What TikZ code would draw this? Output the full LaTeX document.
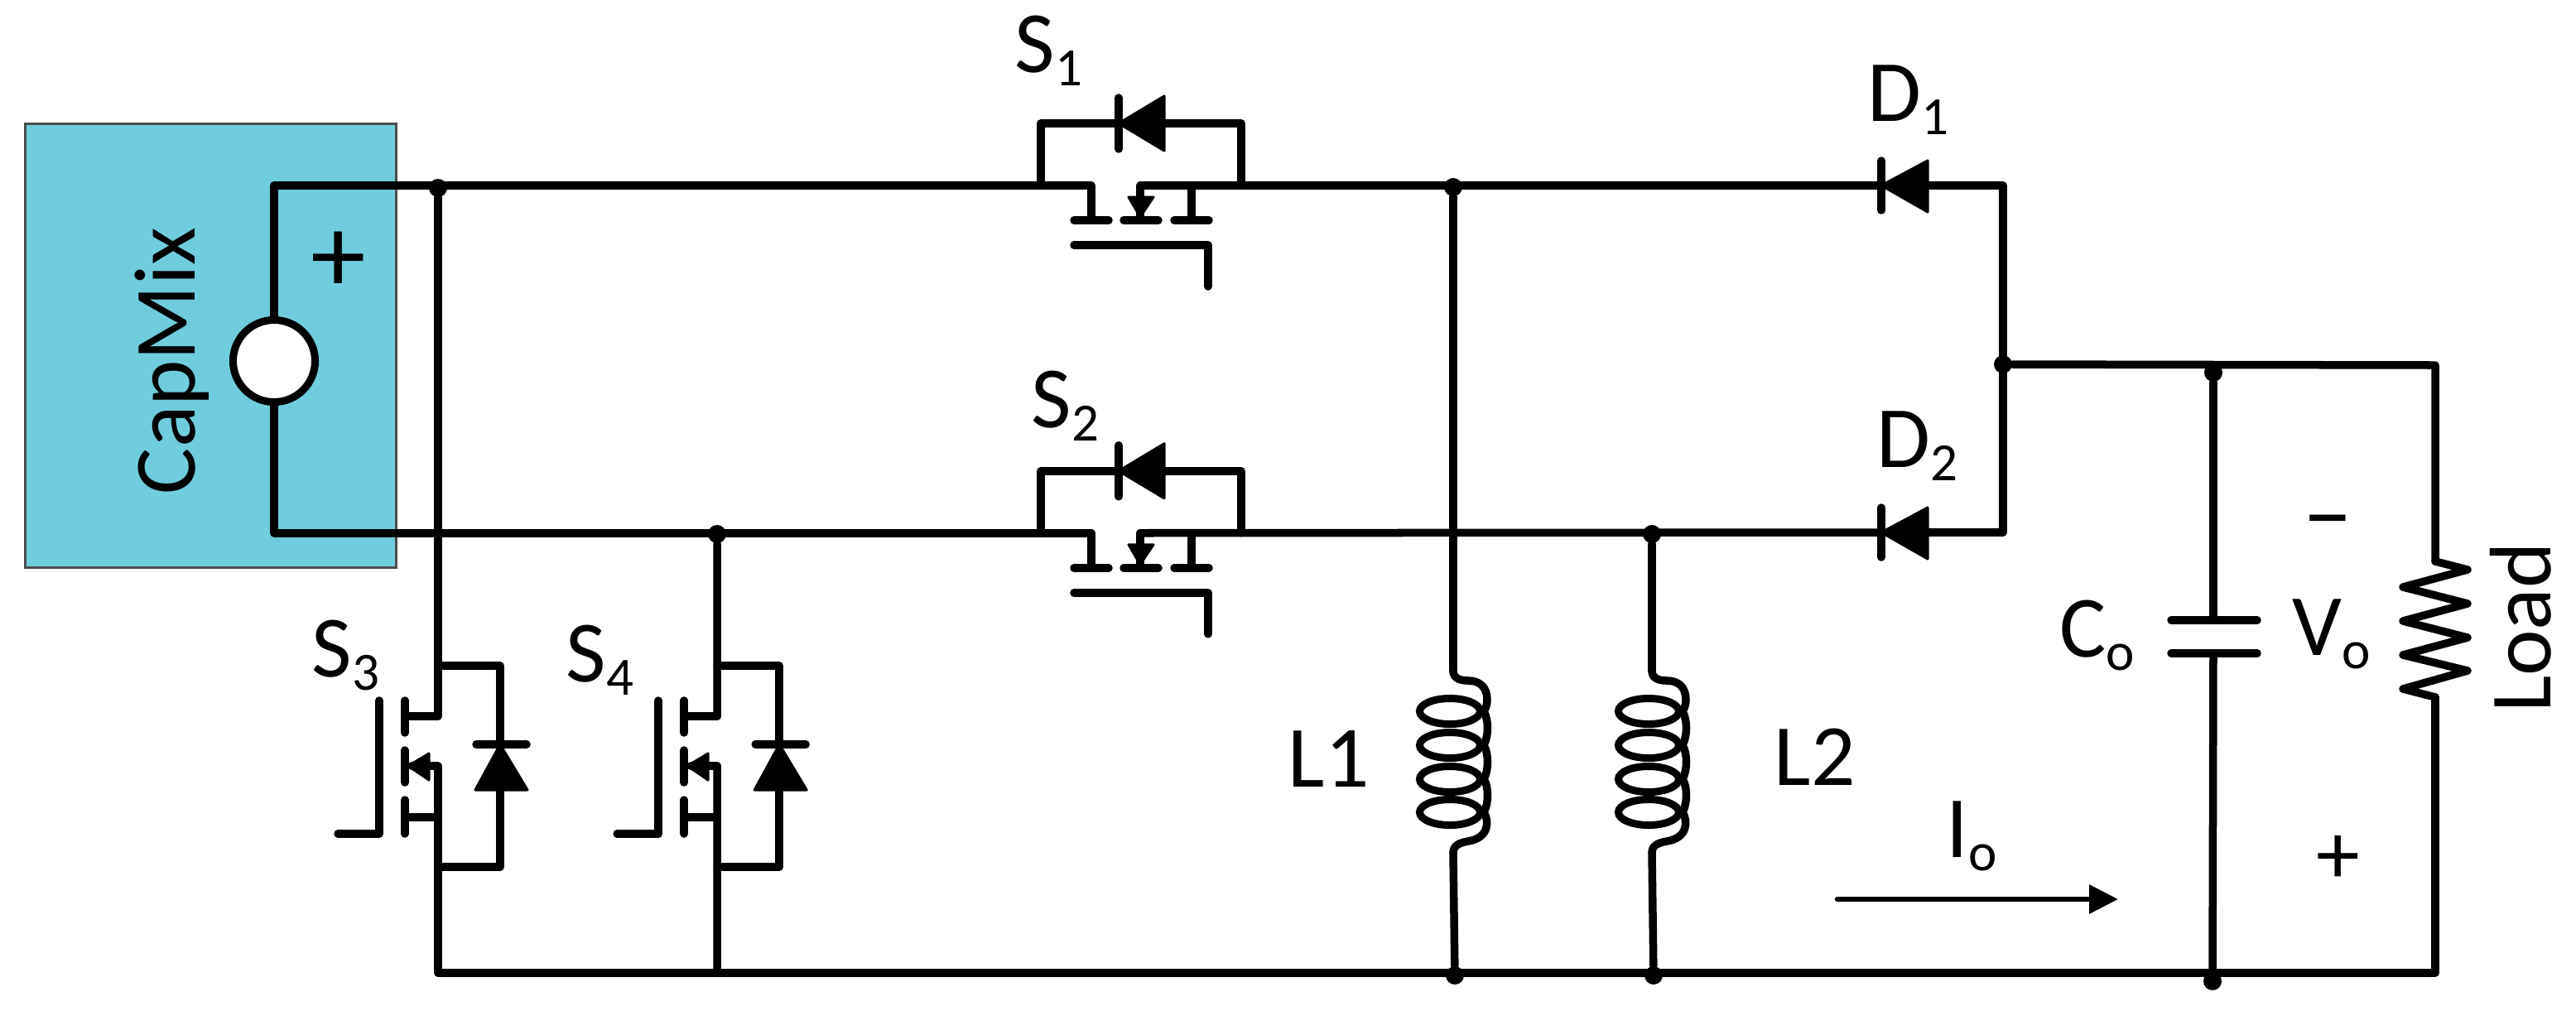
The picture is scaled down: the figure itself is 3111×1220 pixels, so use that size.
\documentclass[tikz,border=0pt]{standalone}
\usepackage{fontspec}
\setmainfont{Carlito}
\usetikzlibrary{arrows.meta}
\definecolor{capblue}{RGB}{111,205,222}
\tikzstyle{wire}=[line width=0.095cm,line cap=round,line join=round]
\tikzstyle{tip}=[line width=0.03cm,line join=round,fill=black]
\tikzstyle{dot}=[circle,fill=black,inner sep=0pt,minimum size=0.22cm]
\tikzstyle{lbl}=[inner sep=0pt,font=\fontsize{30pt}{36pt}\selectfont]
\newcommand{\lowsub}[1]{\raisebox{-0.16cm}{\fontsize{18.5pt}{22pt}\selectfont #1}}
% switch on a rail, diode on top
\newcommand{\railswitch}[1]{
\coordinate(#1a) at (1257,224);
\coordinate(#1b) at (1499,224);
\coordinate(#1d) at (1318,224);
\coordinate(#1s) at (1377,224);
\coordinate(#1e) at (1439,224);
\draw[wire](#1a)--(1257,149)--(1351,149);
\draw[wire](#1b)--(1499,149)--(1407,149);
\draw[wire](1351,118)--(1351,180);
\filldraw[tip](1351,149)--(1406,116)--(1406,182)--cycle;
\draw[wire](#1d)--(1318,266);
\draw[wire](#1s)--(1377,266);
\draw[wire](#1e)--(1439,266);
\draw[wire](1297,266)--(1339,266);
\draw[wire](1357,266)--(1399,266);
\draw[wire](1418,266)--(1460,266);
\filldraw[tip](1363,238)--(1393,238)--(1377,262)--cycle;
\draw[wire](1297,296)--(1459,296)--(1459,346);
}
% switch hanging down, diode on the right
\newcommand{\legswitch}[1]{
\coordinate(#1t) at (529,804);
\coordinate(#1u) at (529,865);
\coordinate(#1m) at (529,925);
\coordinate(#1v) at (529,987);
\coordinate(#1w) at (529,1047);
\draw[wire](#1t)--(604,804)--(604,899);
\draw[wire](#1w)--(604,1047)--(604,955);
\draw[wire](575,899)--(636,899);
\filldraw[tip](604,899)--(574,954)--(637,954)--cycle;
\draw[wire](#1u)--(489,865);
\draw[wire](#1m)--(497,925);
\draw[wire](#1v)--(489,987);
\draw[wire](489,846)--(489,885);
\draw[wire](489,906)--(489,945);
\draw[wire](489,966)--(489,1007);
\filldraw[tip](493,925)--(518,910)--(518,942)--cycle;
\draw[wire](458,846)--(458,1007)--(408,1007);
}
% coil, wire at the given x
\newcommand{\coil}[2]{
\coordinate(#1t) at (#2,810);
\coordinate(#1b) at (#2,1030);
\draw[wire](#1t)..controls(#2,818)and(#2+6,822)..(#2+18,822)..controls(#2+32,822)and(#2+41,830)..(#2+41,845)..controls(#2+41,850)and(#2+40,854)..(#2+37,859)..controls(#2+43,870)and(#2+43,888)..(#2+37,900)..controls(#2+43,910)and(#2+43,930)..(#2+37,941)..controls(#2+43,950)and(#2+43,970)..(#2+37,981)..controls(#2+44,992)and(#2+43,1012)..(#2+18,1016)..controls(#2+6,1018)and(#2,1022)..(#1b);
\foreach \yy in {859,900,941,981}
\draw[line width=0.09cm](#2-4,\yy) ellipse (0.365cm and 0.155cm);
}
\begin{document}
\begin{tikzpicture}[x=0.01cm,y=-0.01cm]
\useasboundingbox(0,0) rectangle (3111,1220);
\node(box)[draw=black!70,line width=0.03cm,fill=capblue,minimum width=4.47cm,minimum height=5.35cm,inner sep=0pt] at (254.5,417.5){};
\node(capmix)[lbl,rotate=90,anchor=base] at (235,436){CapMix};
\node(src)[circle,draw=black,line width=0.09cm,fill=white,minimum size=0.99cm,inner sep=0pt] at (331,436){};
\node(plus)[lbl,font=\fontsize{38pt}{40pt}\selectfont] at (409,317){+};
\railswitch{sa}
\begin{scope}[yshift=-4.195cm]
\railswitch{sb}
\end{scope}
\legswitch{sc}
\begin{scope}[xshift=3.37cm]
\legswitch{sd}
\end{scope}
\coil{la}{1755}
\coil{lb}{1995}
\coordinate(d1) at (2272,224);
\coordinate(d2) at (2272,643);
\coordinate(d1r) at (2329,224);
\coordinate(d2r) at (2329,643);
\coordinate(rt) at (2419,224);
\coordinate(rb) at (2419,643);
\coordinate(ct) at (2673,749);
\coordinate(cb) at (2673,789);
\coordinate(loadt) at (2941,678);
\coordinate(loadb) at (2941,842);
\coordinate(busl) at (529,1175);
\coordinate(busr) at (2941,1175);
\coordinate(dcr) at (2941,441);
\coordinate(arra) at (2219,1086);
\coordinate(arrb) at (2558,1086);
\node(ja)[dot] at (529,227){};
\node(jb)[dot] at (866,645){};
\node(jc)[dot] at (1755,226){};
\node(jd)[dot] at (1995,645){};
\node(je)[dot] at (2419,440){};
\node(jf)[dot] at (2673,450){};
\node(jg)[dot] at (1757,1178){};
\node(jh)[dot] at (1997,1178){};
\node(ji)[dot] at (2672,1185){};
\draw[wire](src.north)|-(sad);
\draw[wire](src.south)|-(sbd);
\draw[wire](sas)--(d1);
\draw[wire](sbs)--(d2);
\draw[wire](d1r)--(rt)--(rb)--(d2r);
\draw[wire](d1|-0,194)--(d1|-0,254);
\draw[wire](d2|-0,613)--(d2|-0,673);
\filldraw[tip](d1)--(2328,194)--(2328,256)--cycle;
\filldraw[tip](d2)--(2328,613)--(2328,675)--cycle;
\draw[wire](ja)--(scu);
\draw[wire](scm)--(busl);
\draw[wire](jb)--(sdu);
\draw[wire](sdm)--(866,1175);
\draw[wire](jc)--(lat);
\draw[wire](jd)--(lbt);
\draw[wire](lab)--(jg);
\draw[wire](lbb)--(jh);
\draw[wire](busl)--(busr)--(loadb);
\draw[wire](je)--(dcr)--(loadt);
\draw[wire](jf)--(ct);
\draw[wire](cb)--(ji);
\draw[wire](2622,749)--(2726,749);
\draw[wire](2622,789)--(2726,789);
\draw[wire](loadt)--(2980,688)--(2902,709)--(2980,729)--(2902,750)--(2980,770)--(2902,791)--(2980,810)--(2902,832)--(loadb);
\draw[-{Triangle[length=0.35cm,width=0.34cm]},line width=0.065cm,line cap=round](arra)--(arrb);
\node(labs1)[lbl,anchor=base west] at (1225,87){S\lowsub{1}};
\node(labs2)[lbl,anchor=base west] at (1245,516){S\lowsub{2}};
\node(labs3)[lbl,anchor=base west] at (376,817){S\lowsub{3}};
\node(labs4)[lbl,anchor=base west] at (683,823){S\lowsub{4}};
\node(labd1)[lbl,anchor=base west] at (2255,146){D\lowsub{1}};
\node(labd2)[lbl,anchor=base west] at (2266,564){D\lowsub{2}};
\node(labl1)[lbl,anchor=base west] at (1555,950){L1};
\node(labl2)[lbl,anchor=base west] at (2142,948){L2};
\node(labco)[lbl,anchor=base west] at (2487,793){C\lowsub{o}};
\node(labvo)[lbl,anchor=base west] at (2768,791){V\lowsub{o}};
\node(labio)[lbl,anchor=base west] at (2350,1035){I\lowsub{o}};
\node(minus)[lbl,font=\fontsize{33pt}{36pt}\selectfont] at (2811,642){−};
\node(plusb)[lbl] at (2824,1038){+};
\node(load)[lbl,rotate=90,anchor=base] at (3080,758){Load};
\end{tikzpicture}
\end{document}
